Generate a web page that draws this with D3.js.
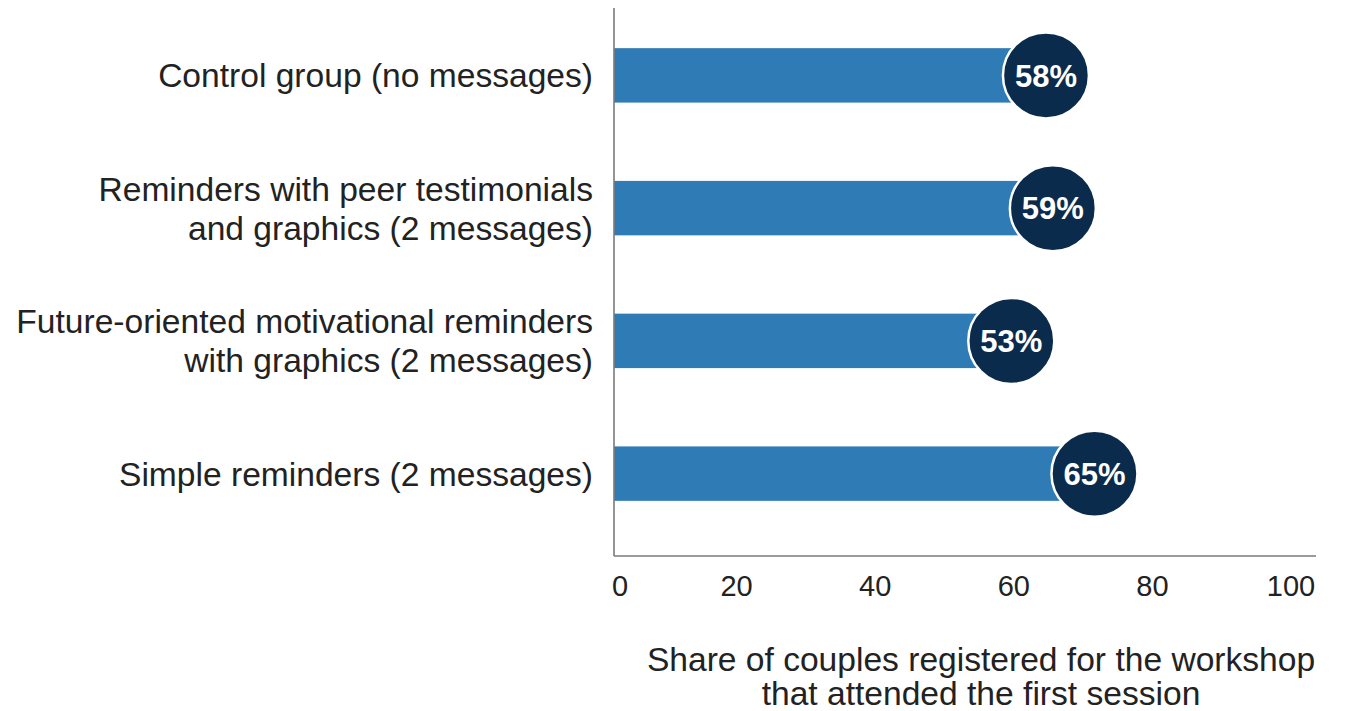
<!DOCTYPE html>
<html>
<head>
<meta charset="utf-8">
<script src="https://cdn.jsdelivr.net/npm/d3@7"></script>
<style>
  html, body { margin: 0; padding: 0; background: #ffffff; }
  svg text { font-family: "Liberation Sans", Arial, Helvetica, sans-serif; }
</style>
</head>
<body>
<svg id="chart" width="1345" height="711"></svg>
<script>
// Attendance at the first workshop session, by reminder treatment
const categories = [
  ["Control group (no messages)"],
  ["Reminders with peer testimonials", "and graphics (2 messages)"],
  ["Future-oriented motivational reminders", "with graphics (2 messages)"],
  ["Simple reminders (2 messages)"]
];
const values = [58, 59, 53, 65];
const tickValues = [0, 20, 40, 60, 80, 100];
const axisTitle = ["Share of couples registered for the workshop", "that attended the first session"];

const svg = d3.select("#chart");

const axisLeft = 614, axisRight = 1316, axisTop = 8, axisBottom = 556;
const x = d3.scaleLinear().domain([0, 100]).range([598, 1291]);
const y = d3.scaleBand()
  .domain(d3.range(categories.length))
  .range([9, 540])
  .paddingInner(0.59)
  .paddingOuter(0.295);

const r = 43;
const cx = v => x(v) + r + 3;

// bars
svg.append("g").selectAll("rect")
  .data(values)
  .join("rect")
  .attr("x", axisLeft)
  .attr("y", (d, i) => y(i))
  .attr("width", d => cx(d) - axisLeft)
  .attr("height", y.bandwidth())
  .attr("fill", "#2e7bb5");

// axis lines
svg.append("line")
  .attr("x1", axisLeft).attr("x2", axisLeft)
  .attr("y1", axisTop).attr("y2", axisBottom)
  .attr("stroke", "#7a7a7a").attr("stroke-width", 1.6);
svg.append("line")
  .attr("x1", axisLeft).attr("x2", axisRight)
  .attr("y1", axisBottom).attr("y2", axisBottom)
  .attr("stroke", "#7a7a7a").attr("stroke-width", 1.6);

// value bubbles
const bub = svg.append("g").selectAll("g")
  .data(values)
  .join("g")
  .attr("transform", (d, i) => `translate(${cx(d)},${y(i) + y.bandwidth() / 2})`);
bub.append("circle")
  .attr("r", r)
  .attr("fill", "#0b2b4d")
  .attr("stroke", "#ffffff")
  .attr("stroke-width", 2.5);
bub.append("text")
  .attr("text-anchor", "middle")
  .attr("dy", "0.36em")
  .attr("fill", "#ffffff")
  .attr("font-weight", "bold")
  .attr("font-size", 31)
  .text(d => d + "%");

// category labels
const lab = svg.append("g").selectAll("text")
  .data(categories)
  .join("text")
  .attr("text-anchor", "end")
  .attr("font-size", 33.6)
  .attr("fill", "#222222")
  .attr("transform", (d, i) => `translate(593,${y(i) + y.bandwidth() / 2})`);
lab.selectAll("tspan")
  .data(d => d.map((t, k) => ({ t, k, n: d.length })))
  .join("tspan")
  .attr("x", 0)
  .attr("y", d => (d.k - (d.n - 1) / 2) * 39)
  .attr("dy", "0.36em")
  .text(d => d.t);

// x tick labels
svg.append("g").selectAll("text")
  .data(tickValues)
  .join("text")
  .attr("x", d => d === 0 ? axisLeft - 2 : x(d))
  .attr("y", 596)
  .attr("text-anchor", d => d === 0 ? "start" : "middle")
  .attr("font-size", 29)
  .attr("fill", "#222222")
  .text(d => d);

// axis title
svg.append("text")
  .attr("text-anchor", "middle")
  .attr("font-size", 33.6)
  .attr("fill", "#222222")
  .selectAll("tspan")
  .data(axisTitle)
  .join("tspan")
  .attr("x", 981)
  .attr("y", (d, i) => 671 + i * 34)
  .text(d => d);
</script>
</body>
</html>
